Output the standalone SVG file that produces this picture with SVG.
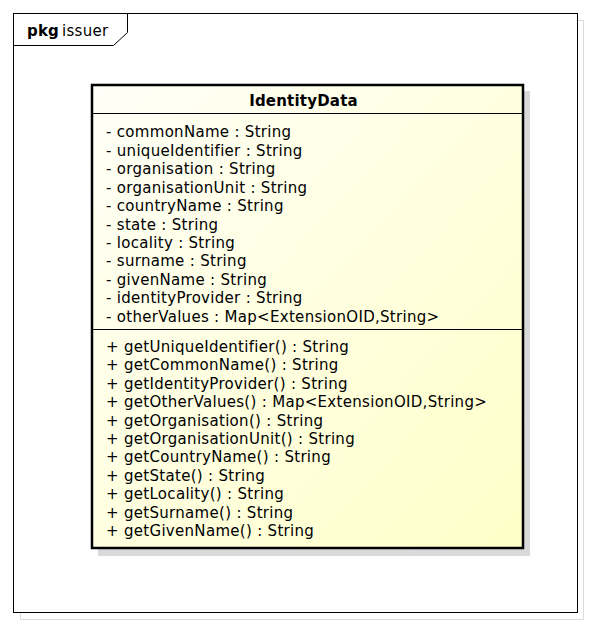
<svg xmlns="http://www.w3.org/2000/svg" width="592" height="626" viewBox="0 0 592 626">
<defs>
<linearGradient id="fill" x1="0" y1="0" x2="1" y2="1">
<stop offset="0" stop-color="#fffff8"/>
<stop offset="1" stop-color="#ffffc8"/>
</linearGradient>
<style>
text{font-family:"DejaVu Sans",sans-serif;font-size:15px;fill:#000;letter-spacing:0.3px}
.b{font-weight:bold;letter-spacing:0.2px}
</style>
</defs>
<rect width="592" height="626" fill="#fff"/>
<g id="package">
<rect x="20.5" y="20.5" width="563" height="599" fill="none" stroke="#dcdcdc" stroke-width="1"/>
<rect x="13.5" y="13.5" width="564" height="599" fill="#fff" stroke="#000" stroke-width="1"/>
<path d="M13.5 45.5 H113.5 L127.5 32.5 V13.5" fill="none" stroke="#000" stroke-width="1"/>
<text x="27" y="36"><tspan class="b">pkg</tspan><tspan x="62">issuer</tspan></text>
</g>
<g id="IdentityData">
<rect x="98" y="91" width="432" height="465" fill="#d9d9d9"/>
<rect x="92" y="85" width="431" height="463" fill="url(#fill)" stroke="#000" stroke-width="2.5"/>
<line x1="92" y1="113.5" x2="523" y2="113.5" stroke="#000" stroke-width="1"/>
<line x1="92" y1="329.5" x2="523" y2="329.5" stroke="#000" stroke-width="1"/>
<text class="b" x="303.5" y="106" text-anchor="middle">IdentityData</text>
<text x="106" y="137.3">- commonName : String</text>
<text x="106" y="155.75">- uniqueIdentifier : String</text>
<text x="106" y="174.2">- organisation : String</text>
<text x="106" y="192.65">- organisationUnit : String</text>
<text x="106" y="211.1">- countryName : String</text>
<text x="106" y="229.55">- state : String</text>
<text x="106" y="248">- locality : String</text>
<text x="106" y="266.45">- surname : String</text>
<text x="106" y="284.9">- givenName : String</text>
<text x="106" y="303.35">- identityProvider : String</text>
<text x="106" y="321.8">- otherValues : Map&lt;ExtensionOID,String&gt;</text>
<text x="106" y="351.7">+ getUniqueIdentifier() : String</text>
<text x="106" y="370.15">+ getCommonName() : String</text>
<text x="106" y="388.6">+ getIdentityProvider() : String</text>
<text x="106" y="407.05">+ getOtherValues() : Map&lt;ExtensionOID,String&gt;</text>
<text x="106" y="425.5">+ getOrganisation() : String</text>
<text x="106" y="443.95">+ getOrganisationUnit() : String</text>
<text x="106" y="462.4">+ getCountryName() : String</text>
<text x="106" y="480.85">+ getState() : String</text>
<text x="106" y="499.3">+ getLocality() : String</text>
<text x="106" y="517.75">+ getSurname() : String</text>
<text x="106" y="536.2">+ getGivenName() : String</text>
</g>
<g id="connectors"/>
</svg>
